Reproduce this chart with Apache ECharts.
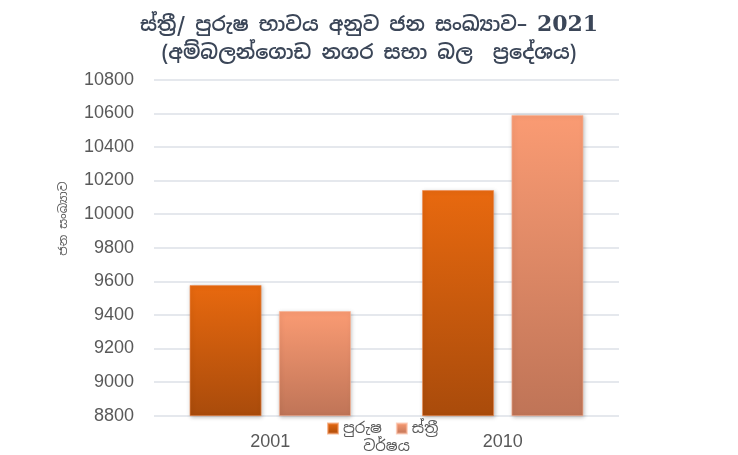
<!DOCTYPE html>
<html>
<head>
<meta charset="utf-8">
<script src="https://cdn.jsdelivr.net/npm/echarts@6/dist/echarts.min.js"></script>
<style>
html,body{margin:0;padding:0;background:#fff;}
#chart{width:738px;height:455px;}
</style>
</head>
<body>
<div id="chart"></div>
<script>
const titleLine1 = 'ස්ත්‍රී/ පුරුෂ භාවය අනුව ජන සංඛ්‍යාව– ';
const titleYear = '2021';
const titleLine2 = '(අම්බලන්ගොඩ නගර සභා බල  ප්‍රදේශය)';
const categories = ['2001', '2010'];
const seriesNames = ['පුරුෂ', 'ස්ත්‍රී'];
const maleValues = [9578, 10143];
const femaleValues = [9423, 10590];
const yAxisName = 'ජන සංඛ්‍යාව';
const xAxisName = 'වර්ෂය';
const yMin = 8800, yMax = 10800, yStep = 200;

const FONT = '"Noto Sans Sinhala", "Noto Sans", "Liberation Sans", sans-serif';
const grad = (top, bottom) => new echarts.graphic.LinearGradient(0, 0, 0, 1, [
  {offset: 0, color: top}, {offset: 1, color: bottom}
]);

const chart = echarts.init(document.getElementById('chart'), null, {renderer: 'canvas'});
chart.setOption({
  backgroundColor: '#ffffff',
  animation: false,
  title: {
    text: '{a|' + titleLine1 + '}{b|' + titleYear + '}\n{a|' + titleLine2 + '}',
    left: 'center',
    top: 6,
    textStyle: {
      rich: {
        a: {color: '#3b4658', fontSize: 20, fontWeight: 600, fontFamily: FONT, lineHeight: 28},
        b: {color: '#3b4658', fontSize: 22, fontWeight: 'bold', fontFamily: '"DejaVu Serif", serif', lineHeight: 28}
      }
    }
  },
  legend: {
    data: seriesNames,
    left: 322,
    top: 416,
    itemWidth: 10,
    itemHeight: 10,
    itemGap: 14,
    icon: 'rect',
    textStyle: {color: '#595959', fontSize: 15, fontFamily: FONT}
  },
  grid: {left: 154, right: 119, top: 79.7, bottom: 39.3, containLabel: false, outerBoundsMode: 'none'},
  xAxis: {
    type: 'category',
    data: categories,
    name: xAxisName,
    nameLocation: 'middle',
    nameGap: 24,
    nameMoveOverlap: false,
    nameTextStyle: {color: '#595959', fontSize: 15, fontFamily: FONT},
    axisLine: {show: false},
    axisTick: {show: false},
    axisLabel: {color: '#595959', fontSize: 18, margin: 17, fontFamily: '"Liberation Sans", sans-serif'}
  },
  yAxis: {
    type: 'value',
    min: yMin,
    max: yMax,
    interval: yStep,
    name: yAxisName,
    nameLocation: 'middle',
    nameGap: 84,
    nameMoveOverlap: false,
    nameRotate: 90,
    nameTextStyle: {color: '#595959', fontSize: 12, fontFamily: FONT, padding: [0, 0, 0, 58]},
    axisLine: {show: false},
    axisTick: {show: false},
    axisLabel: {color: '#595959', fontSize: 18, margin: 20, fontFamily: '"Liberation Sans", sans-serif',
      formatter: v => String(v)},
    splitLine: {lineStyle: {color: '#dde1e7', width: 1.5}}
  },
  series: [
    {
      name: seriesNames[0],
      type: 'bar',
      data: maleValues,
      barWidth: '31%',
      barGap: '24%',
      itemStyle: {
        color: grad('#e8690f', '#a94b0b'),
        borderColor: 'rgba(240,140,80,0.6)',
        borderWidth: 1,
        shadowBlur: 4,
        shadowColor: 'rgba(0,0,0,0.25)',
        shadowOffsetX: 1,
        shadowOffsetY: 1
      }
    },
    {
      name: seriesNames[1],
      type: 'bar',
      data: femaleValues,
      barWidth: '31%',
      itemStyle: {
        color: grad('#fa9b73', '#bf7457'),
        borderColor: 'rgba(250,180,150,0.6)',
        borderWidth: 1,
        shadowBlur: 4,
        shadowColor: 'rgba(0,0,0,0.25)',
        shadowOffsetX: 1,
        shadowOffsetY: 1
      }
    }
  ]
});
</script>
</body>
</html>
